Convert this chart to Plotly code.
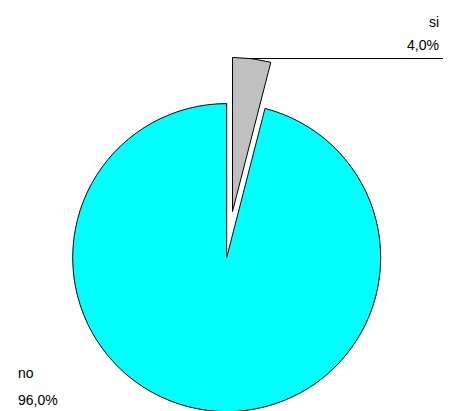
import math
import plotly.graph_objects as go

# ---- data ----
categories = ["si", "no"]
percent_values = [4.0, 96.0]
slice_colors = ["#C0C0C0", "#00FFFF"]

W, H = 451, 411
OFF = 8  # page body margin offset

def fmt(v):
    return f"{v:.1f}".replace(".", ",") + "%"

def px(x):
    return (x - OFF) / W

def py(y):
    return 1 - (y - OFF) / H

# geometry (reference pixels)
cx, cy, r = 226.7, 257.6, 154.0
pull_px = 46.5
total = sum(percent_values)
mid_angle = math.radians(360 * percent_values[0] / total / 2)
cx2 = cx + pull_px * math.sin(mid_angle)
cy2 = cy - pull_px * math.cos(mid_angle)

def domain(cxp, cyp, rp):
    return dict(x=[max(0, px(cxp - rp)), min(1, px(cxp + rp))],
                y=[max(0, py(cyp + rp)), min(1, py(cyp - rp))])

transparent = "rgba(0,0,0,0)"

fig = go.Figure()
# main body ("no" slice)
fig.add_trace(go.Pie(
    labels=categories, values=percent_values, sort=False, direction="clockwise",
    rotation=0, textinfo="none", hoverinfo="label+percent", showlegend=False,
    marker=dict(colors=[transparent, slice_colors[1]],
                line=dict(color=[transparent, "#000000"], width=[0, 1])),
    domain=domain(cx, cy, r),
))
# exploded "si" slice
fig.add_trace(go.Pie(
    labels=categories, values=percent_values, sort=False, direction="clockwise",
    rotation=0, textinfo="none", hoverinfo="label+percent", showlegend=False,
    marker=dict(colors=[slice_colors[0], transparent],
                line=dict(color=["#000000", transparent], width=[1, 0])),
    domain=domain(cx2, cy2, r),
))

font = dict(family="Liberation Sans, Arial, sans-serif", size=14, color="#000000")
annotations = [
    dict(text=categories[0], x=px(441), y=py(22), xanchor="right", yanchor="middle"),
    dict(text=fmt(percent_values[0]), x=px(441), y=py(45), xanchor="right", yanchor="middle"),
    dict(text=categories[1], x=px(16), y=py(373), xanchor="left", yanchor="middle"),
    dict(text=fmt(percent_values[1]), x=px(16), y=py(400), xanchor="left", yanchor="middle"),
]
for a in annotations:
    a.update(xref="paper", yref="paper", showarrow=False, font=font)

fig.update_layout(
    width=W, height=H, margin=dict(l=0, r=0, t=0, b=0),
    paper_bgcolor="#FFFFFF", plot_bgcolor="#FFFFFF",
    annotations=annotations,
    shapes=[dict(type="line", xref="paper", yref="paper",
                 x0=px(247), x1=px(443), y0=py(58.5), y1=py(58.5),
                 line=dict(color="#000000", width=1))],
)

fig.write_html("out.html")
